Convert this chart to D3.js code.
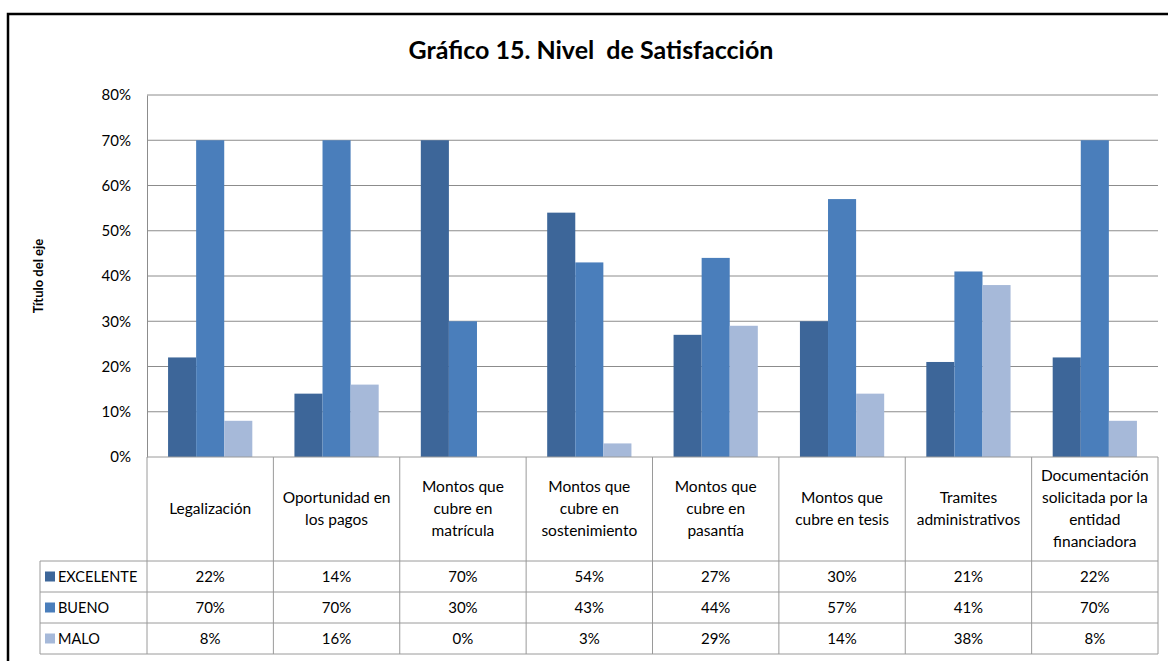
<!DOCTYPE html>
<html lang="es">
<head>
<meta charset="UTF-8">
<title>Gráfico 15. Nivel de Satisfacción</title>
<script src="https://d3js.org/d3.v7.min.js"></script>
<style>
  body { margin: 0; background: #fff; font-family: Lato, "Open Sans", sans-serif; }
  svg { display: block; }
</style>
</head>
<body>
<svg id="chart" width="1168" height="661"></svg>
<script>
// categories and series
const categories = [
  ["Legalización"],
  ["Oportunidad en", "los pagos"],
  ["Montos que", "cubre en", "matrícula"],
  ["Montos que", "cubre en", "sostenimiento"],
  ["Montos que", "cubre en", "pasantía"],
  ["Montos que", "cubre en tesis"],
  ["Tramites", "administrativos"],
  ["Documentación", "solicitada por la", "entidad", "financiadora"]
];
const seriesNames = ["EXCELENTE", "BUENO", "MALO"];
const excelente = [22, 14, 70, 54, 27, 30, 21, 22];
const bueno = [70, 70, 30, 43, 44, 57, 41, 70];
const malo = [8, 16, 0, 3, 29, 14, 38, 8];
const yTicks = [0, 10, 20, 30, 40, 50, 60, 70, 80];
const colors = ["#3d6699", "#4a7ebb", "#a6b9d9"];

const series = [excelente, bueno, malo];

const svg = d3.select("#chart");
const plotL = 147, plotR = 1158, plotT = 95, plotB = 457;
const rowH = 31, headerBottom = 561, legendLeft = 40;

// outer frame
svg.append("rect").attr("x", 8).attr("y", 14).attr("width", 1200).attr("height", 700)
  .attr("fill", "none").attr("stroke", "#000").attr("stroke-width", 2.5);

svg.append("text").attr("x", 591).attr("y", 59).attr("text-anchor", "middle")
  .attr("font-size", 25).attr("font-weight", "bold").attr("fill", "#000")
  .attr("xml:space", "preserve")
  .text("Gráfico 15. Nivel  de Satisfacción");

const x = d3.scaleBand().domain(d3.range(categories.length)).range([plotL, plotR]);
const x1 = d3.scaleBand().domain(d3.range(seriesNames.length))
  .range([0, x.bandwidth()]).paddingOuter(0.75).paddingInner(0);
const y = d3.scaleLinear().domain([0, 80]).range([plotB, plotT]);

// gridlines
svg.append("g").selectAll("line").data(yTicks.filter(d => d > 0)).join("line")
  .attr("x1", plotL).attr("x2", plotR)
  .attr("y1", d => y(d)).attr("y2", d => y(d))
  .attr("stroke", "#8c8c8c").attr("stroke-width", 1);

// y axis
const yAxis = svg.append("g").attr("transform", `translate(${plotL},0)`)
  .call(d3.axisLeft(y).tickValues(yTicks).tickFormat(d => d + "%").tickSize(0).tickPadding(16));
yAxis.select(".domain").attr("stroke", "#8c8c8c");
yAxis.selectAll("text").attr("font-size", 15).attr("font-family", "Lato, sans-serif").attr("fill", "#000");

svg.append("text").attr("transform", `translate(43,${(plotT + plotB) / 2}) rotate(-90)`)
  .attr("text-anchor", "middle").attr("font-size", 13).attr("font-weight", "bold")
  .text("Título del eje");

// bars
series.forEach((vals, si) => {
  svg.append("g").selectAll("rect").data(vals).join("rect")
    .attr("x", (d, i) => x(i) + x1(si))
    .attr("width", x1.bandwidth())
    .attr("y", d => y(d))
    .attr("height", d => y(0) - y(d))
    .attr("fill", colors[si]);
});

// data table
const tbl = svg.append("g").attr("stroke", "#9a9a9a").attr("stroke-width", 1);
const tableBottom = headerBottom + rowH * seriesNames.length;
tbl.append("line").attr("x1", plotL).attr("x2", plotR).attr("y1", plotB).attr("y2", plotB);
d3.range(seriesNames.length + 1).forEach(r => {
  const yy = headerBottom + r * rowH;
  tbl.append("line").attr("x1", legendLeft).attr("x2", plotR).attr("y1", yy).attr("y2", yy);
});
d3.range(categories.length + 1).forEach(c => {
  const xx = plotL + c * x.step();
  tbl.append("line").attr("x1", xx).attr("x2", xx).attr("y1", plotB).attr("y2", tableBottom);
});
tbl.append("line").attr("x1", legendLeft).attr("x2", legendLeft).attr("y1", headerBottom).attr("y2", tableBottom);

// category headers
categories.forEach((lines, i) => {
  const cx = x(i) + x.bandwidth() / 2;
  const lh = 22;
  const cy = (plotB + headerBottom) / 2 - (lines.length - 1) * lh / 2;
  const t = svg.append("text").attr("text-anchor", "middle").attr("font-size", 15.5).attr("fill", "#000");
  lines.forEach((ln, k) => {
    t.append("tspan").attr("x", cx).attr("y", cy + k * lh + 5).text(ln);
  });
});

// legend keys + values
seriesNames.forEach((name, si) => {
  const ry = headerBottom + si * rowH;
  svg.append("rect").attr("x", 45).attr("y", ry + rowH / 2 - 5).attr("width", 10).attr("height", 10)
    .attr("fill", colors[si]);
  svg.append("text").attr("x", 58).attr("y", ry + rowH / 2 + 5).attr("font-size", 14.5)
    .attr("fill", "#000").text(name);
  svg.append("g").selectAll("text").data(series[si]).join("text")
    .attr("x", (d, i) => x(i) + x.bandwidth() / 2)
    .attr("y", ry + rowH / 2 + 5)
    .attr("text-anchor", "middle").attr("font-size", 15).attr("fill", "#000")
    .text(d => d + "%");
});
</script>
</body>
</html>
